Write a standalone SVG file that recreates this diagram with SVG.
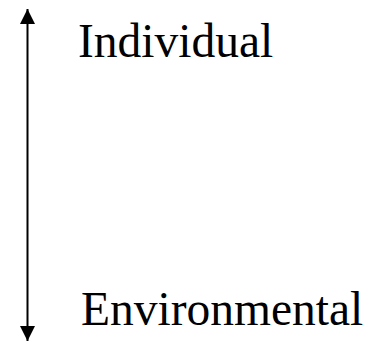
<svg xmlns="http://www.w3.org/2000/svg" width="383" height="342" viewBox="0 0 383 342">
<style>
.lbl{font-family:"Liberation Serif","Times New Roman",serif;font-size:47.5px;fill:#000}
</style>
<defs>
<marker id="ah" markerWidth="15" markerHeight="15" viewBox="0 0 15 15" refX="15" refY="7.5" orient="auto-start-reverse" markerUnits="userSpaceOnUse">
<path d="M0,0 L15,7.5 L0,15 Z" fill="#000"/>
</marker>
</defs>
<rect width="383" height="342" fill="#fff"/>
<g id="connectors">
<line x1="27.5" y1="9" x2="27.5" y2="341" stroke="#000" stroke-width="2" marker-start="url(#ah)" marker-end="url(#ah)"/>
</g>
<g id="individual"><text class="lbl" x="78" y="57">Individual</text></g>
<g id="environmental"><text class="lbl" x="81" y="325">Environmental</text></g>
</svg>
